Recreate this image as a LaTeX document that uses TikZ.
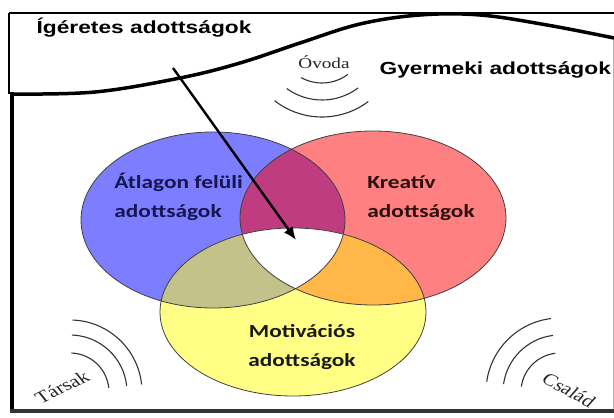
\documentclass[tikz,border=0pt]{standalone}
\usepackage{fontspec}
\setmainfont{Carlito}
\newfontfamily\headfont{Liberation Sans}
\newfontfamily\placefont{Liberation Serif}
\usetikzlibrary{arrows.meta}
\definecolor{setblue}{HTML}{7D7DFF}
\definecolor{setred}{HTML}{FF8080}
\definecolor{setyellow}{HTML}{FFFF85}
\definecolor{bluered}{HTML}{C03C80}
\definecolor{blueyellow}{HTML}{C2C28A}
\definecolor{redyellow}{HTML}{FFB848}
\definecolor{navytext}{HTML}{161650}
\definecolor{browntext}{HTML}{2B1010}
\tikzset{
  setlabel/.style={font=\bfseries\fontsize{18.5}{29}\selectfont, xscale=1.26},
  heading/.style={font=\headfont\bfseries\fontsize{17.5}{22}\selectfont, xscale=1.3, anchor=base west},
  place/.style={font=\placefont\fontsize{17}{20}\selectfont, text=black!85, xscale=1.28},
  wave/.style={black!80, line width=1.1pt},
  outline/.style={black!75, line width=0.8pt},
  pointer/.style={black, line width=2.4pt, -{Latex[length=13pt,width=11pt]}}
}
\begin{document}
\begin{tikzpicture}[x=1pt,y=1pt]
\useasboundingbox (0,0) rectangle (614,418);
% the three sets
\fill[setblue] (213,198) ellipse [x radius=132,y radius=88];
\fill[setred] (373,200) ellipse [x radius=133,y radius=87];
\fill[setyellow] (293,106) ellipse [x radius=133,y radius=84];
\begin{scope}
  \clip (373,200) ellipse [x radius=133,y radius=87];
  \fill[redyellow] (293,106) ellipse [x radius=133,y radius=84];
\end{scope}
\begin{scope}
  \clip (213,198) ellipse [x radius=132,y radius=88];
  \fill[bluered] (373,200) ellipse [x radius=133,y radius=87];
  \fill[blueyellow] (293,106) ellipse [x radius=133,y radius=84];
  \clip (373,200) ellipse [x radius=133,y radius=87];
  \fill[white] (293,106) ellipse [x radius=133,y radius=84];
\end{scope}
\draw[outline] (213,198) ellipse [x radius=132,y radius=88];
\draw[outline] (373,200) ellipse [x radius=133,y radius=87];
\draw[outline] (293,106) ellipse [x radius=133,y radius=84];

% frame and boundary
\draw[black, line width=2.5pt] (9,405) -- (614,405);
\draw[black, line width=2.5pt] (9,405) -- (9,324);
\draw[black, line width=4.5pt] (12,326) -- (12,7);
\draw[black!80, line width=4pt] (10,7) -- (614,7);
\draw[black!30, line width=0.8pt] (613,380) -- (613,9);
\draw[black, line width=3.5pt, line cap=round] plot[smooth, tension=0.6] coordinates
  {(12,324) (95,326) (180,340) (240,355) (300,375) (360,394) (420,403) (480,403) (547,393) (614,380)};

% waves
\foreach \r/\a in {43/241,60/234,77/232}
  \draw[wave] (322,378) ++(\a:\r) arc[start angle=\a, end angle=307, radius=\r];
\foreach \r in {39,57,72}
  \draw[wave] (70,26) ++(88:\r) arc[start angle=88, end angle=6, radius=\r];
\foreach \r in {39,57,74}
  \draw[wave] (560,26) ++(97:\r) arc[start angle=97, end angle=172, radius=\r];

% anchor points for the texts
\coordinate (atlagonpos) at (110,200);
\coordinate (kreativpos) at (363,200);
\coordinate (motivpos) at (302,51);
\coordinate (igeretpos) at (32,384);
\coordinate (gyermekpos) at (375,343);
\coordinate (ovodapos) at (324,349);
\coordinate (tarsakpos) at (62,31);
\coordinate (csaladpos) at (569,28);

\node[setlabel, text=navytext, align=left, anchor=base west] (atlagon) at (atlagonpos) {Átlagon felüli\\adottságok};
\node[setlabel, text=browntext, align=left, anchor=base west] (kreativ) at (kreativpos) {Kreatív\\adottságok};
\node[setlabel, text=black!90, align=center, anchor=base] (motivacios) at (motivpos) {Motivációs\\adottságok};
\node[heading] (igeretes) at (igeretpos) {Ígéretes adottságok};
\node[heading] (gyermeki) at (gyermekpos) {Gyermeki adottságok};
\node[place, font=\placefont\fontsize{15}{18}\selectfont, anchor=base] (ovoda) at (ovodapos) {Óvoda};
\node[place, rotate=32] (tarsak) at (tarsakpos) {Társak};
\node[place, rotate=-35] (csalad) at (csaladpos) {Család};

\coordinate (arrowtail) at (173,350);
\coordinate (arrowtip) at (296,178);
\draw[pointer] (arrowtail) -- (arrowtip);
\end{tikzpicture}
\end{document}
